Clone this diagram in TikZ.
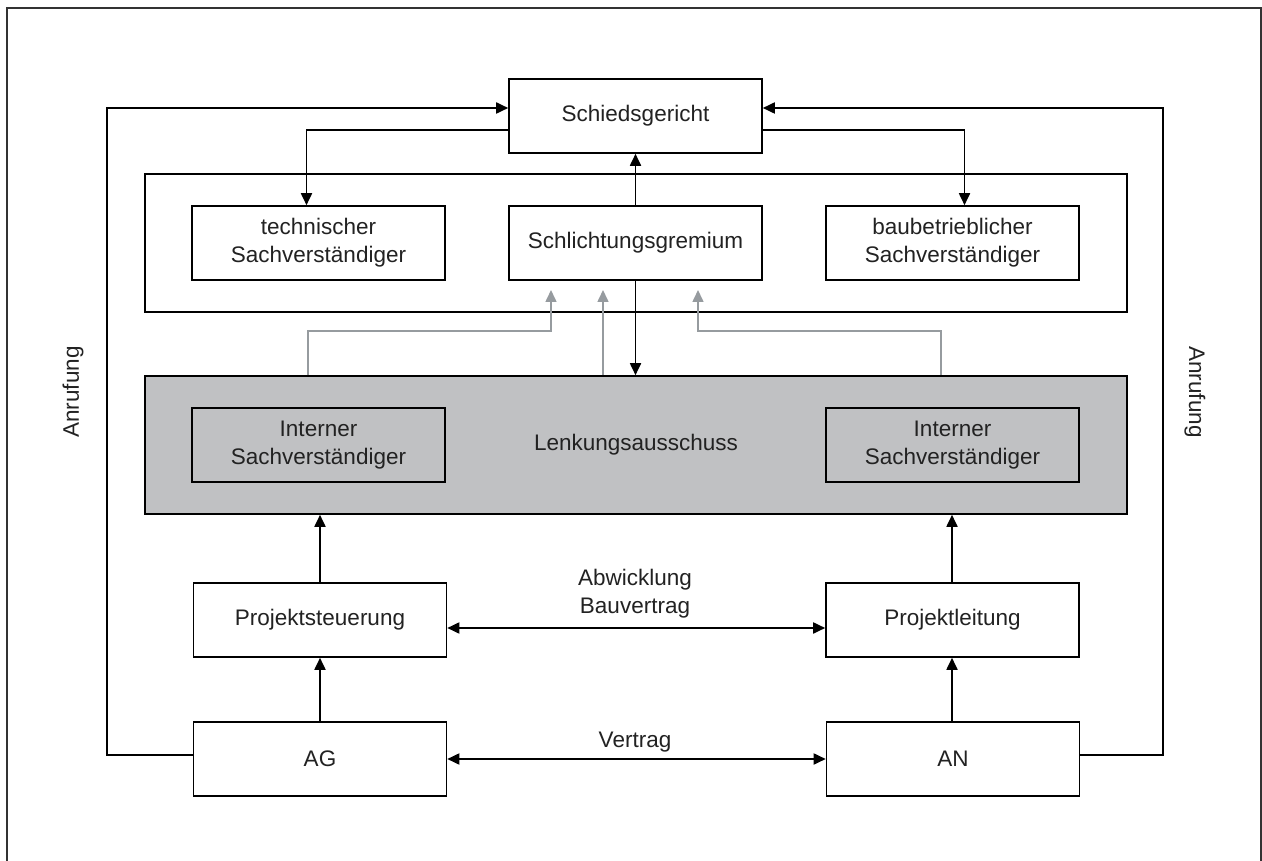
\documentclass[tikz,border=0pt]{standalone}
\usepackage{fontspec}
\setmainfont{Liberation Sans}
\usetikzlibrary{arrows.meta}
\definecolor{txt}{HTML}{222222}
\definecolor{boxgray}{HTML}{C0C1C3}
\definecolor{linkgray}{HTML}{969B9F}
\begin{document}
\begin{tikzpicture}[x=1pt,y=-1pt,
  font=\fontsize{22.5}{28}\selectfont,
  every node/.style={text=txt},
  unit/.style={draw=black,line width=1.6pt,fill=white,minimum width=253pt,minimum height=74pt,inner sep=0pt,align=center},
  panel/.style={draw=black,line width=1.6pt,minimum width=982pt,minimum height=138pt,inner sep=0pt},
  conn/.style={line width=1.8pt,draw=black},
  tip/.style={Triangle[length=12pt,width=11pt]},
  arr/.style={conn,-{Triangle[length=12pt,width=11pt]}},
  darr/.style={conn,{Triangle[length=12pt,width=11pt]}-{Triangle[length=12pt,width=11pt]}},
  garr/.style={line width=1.6pt,draw=linkgray,-{Triangle[length=12pt,width=11pt]}}]
\useasboundingbox (0,0) rectangle (1262,861);
% outer border
\draw[line width=1.8pt,draw=black!80] (7,870) -- (7,8) -- (1261,8) -- (1261,870);

% upper level: arbitration and conciliation
\node[panel] (pool) at (636,243) {};
\node[unit] (sg) at (635.5,116) {Schiedsgericht};
\node[unit] (ts) at (318.5,243) {technischer\\Sachverständiger};
\node[unit] (sl) at (635.5,243) {Schlichtungsgremium};
\node[unit] (bb) at (952.5,243) {baubetrieblicher\\Sachverständiger};

% steering committee
\node[panel,fill=boxgray] (lk) at (636,445) {};
\node at (lk.center) {Lenkungsausschuss};
\node[unit,fill=boxgray] (il) at (318.5,445) {Interner\\Sachverständiger};
\node[unit,fill=boxgray] (ir) at (952.5,445) {Interner\\Sachverständiger};

% project level
\node[unit] (ps) at (320,620) {Projektsteuerung};
\node[unit] (pl) at (952.5,620) {Projektleitung};
\node[unit] (ag) at (320,759) {AG};
\node[unit] (an) at (953,759) {AN};

% escalation paths
\coordinate (la) at (107,108);
\coordinate (ra) at (1163,108);
\draw[arr] ([yshift=4pt]ag.west) -| (la) -- ([yshift=8pt]sg.west);
\draw[arr] ([yshift=4pt]an.east) -| (ra) -- ([yshift=8pt]sg.east);
\node[rotate=90] (lal) at (73,392) {Anrufung};
\node[rotate=-90] (ral) at (1195,392) {Anrufung};

% links from the arbitral tribunal
\draw[arr] ([yshift=-14pt]sg.west) -| ([xshift=-12pt]ts.north);
\draw[arr] ([yshift=-14pt]sg.east) -| ([xshift=12pt]bb.north);
\draw[arr] (sl.north -| sg.south) -- (sg.south);
\draw[arr] (sl.south) -- (sl.south |- lk.north);

% committee to the upper level
\coordinate (g1) at (551,290);
\coordinate (g2) at (603,290);
\coordinate (g3) at (698,290);
\draw[garr] (lk.north -| 308,0) |- (551,331) -- (g1);
\draw[garr] (lk.north -| g2) -- (g2);
\draw[garr] (lk.north -| 941,0) |- (698,331) -- (g3);

% project reporting lines
\draw[arr] (ps.north) -- (ps.north |- lk.south);
\draw[arr] (952,0 |- pl.north) -- (952,0 |- lk.south);
\draw[arr] (ag.north) -- (ps.south);
\draw[arr] (952,0 |- an.north) -- (952,0 |- pl.south);

% contractual relations
\draw[darr] ([yshift=-8pt]ps.east) -- ([yshift=-8pt]pl.west);
\node[align=center] (abw) at (635,594) {Abwicklung\\Bauvertrag};
\draw[darr] (ag.east) -- (an.west);
\node (vtr) at (635,742) {Vertrag};
\end{tikzpicture}
\end{document}
